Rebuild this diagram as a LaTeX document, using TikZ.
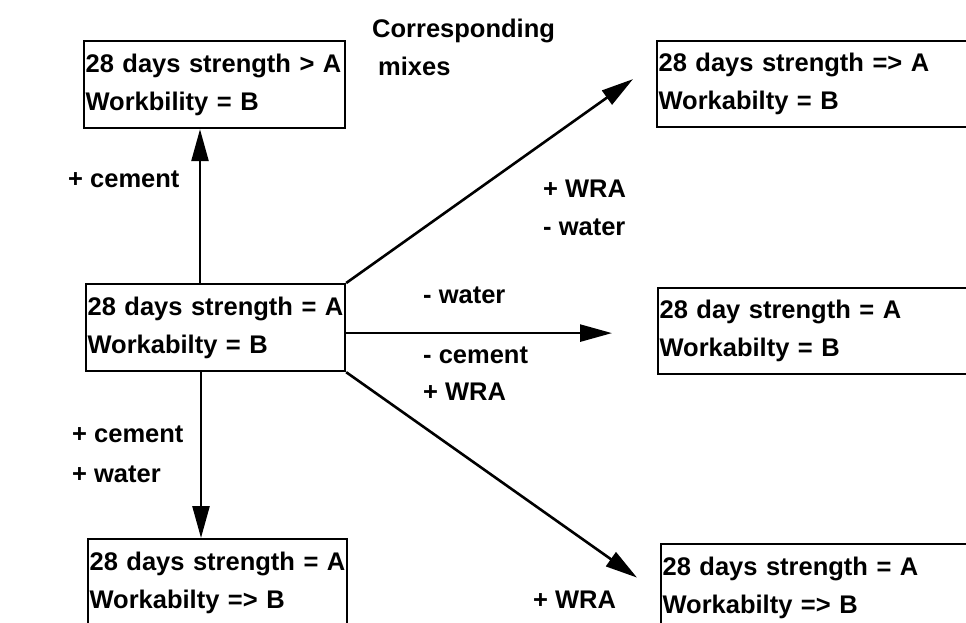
\documentclass[tikz,border=0pt]{standalone}
\usepackage{fontspec}
\setmainfont{Liberation Sans}
\usetikzlibrary{arrows.meta}

\tikzset{
  mixbox/.style={draw, line width=2.2pt, anchor=north west, inner xsep=1.5pt, inner ysep=0pt,
    minimum height=87pt, align=left},
  mixarrow/.style={-{Triangle[length=32pt,width=17pt]}, line width=2.6pt},
  lbl/.style={anchor=base west, inner sep=0pt}
}

\begin{document}
\begin{tikzpicture}[x=1pt, y=-1pt, font=\fontsize{25.5}{38}\selectfont\bfseries]
  \useasboundingbox (0,0) rectangle (966,622);
  \clip (0,0) rectangle (966,622);

  % mixes
  \node[mixbox, text width=258pt] (tl) at (83,40) {28 days strength > A\\Workbility = B};
  \node[mixbox, text width=256pt] (ml) at (85,283) {28 days strength = A\\Workabilty = B};
  \node[mixbox, text width=256pt] (bl) at (87,538) {28 days strength = A\\Workabilty => B};
  \node[mixbox, text width=327pt, minimum height=86pt] (tr) at (656,40) {28 days strength => A\\Workabilty = B};
  \node[mixbox, text width=327pt, minimum height=86pt] (mr) at (657,287) {28 day strength = A\\Workabilty = B};
  \node[mixbox, text width=327pt] (br) at (660,543) {28 days strength = A\\Workabilty => B};

  % arrow tips in front of the right mixes
  \coordinate (tipA) at ([xshift=-23pt,yshift=5pt]tr.west);
  \coordinate (tipB) at ([xshift=-45pt,yshift=-2pt]mr.west);
  \coordinate (tipC) at ([xshift=-23pt,yshift=10pt]br.west);

  \draw[mixarrow] ([xshift=115pt]ml.north west) -- ([xshift=117pt]tl.south west);
  \draw[mixarrow] ([xshift=116pt]ml.south west) -- ([xshift=114pt]bl.north west);
  \draw[mixarrow] (ml.north east) -- (tipA);
  \draw[mixarrow] (ml.east |- tipB) -- (tipB);
  \draw[mixarrow] (ml.south east) -- (tipC);

  % labels
  \node[lbl] (cor1) at (372,37) {Corresponding};
  \node[lbl] (cor2) at (378,75) {mixes};
  \node[lbl] (up1) at (68,187) {+ cement};
  \node[lbl] (ur1) at (543,197) {+ WRA};
  \node[lbl] (ur2) at (543,235) {- water};
  \node[lbl] (rt1) at (423,303) {- water};
  \node[lbl] (rt2) at (423,363) {- cement};
  \node[lbl] (rt3) at (423,400) {+ WRA};
  \node[lbl] (dn1) at (72,442) {+ cement};
  \node[lbl] (dn2) at (72,482) {+ water};
  \node[lbl] (dr1) at (533,608) {+ WRA};
\end{tikzpicture}
\end{document}
